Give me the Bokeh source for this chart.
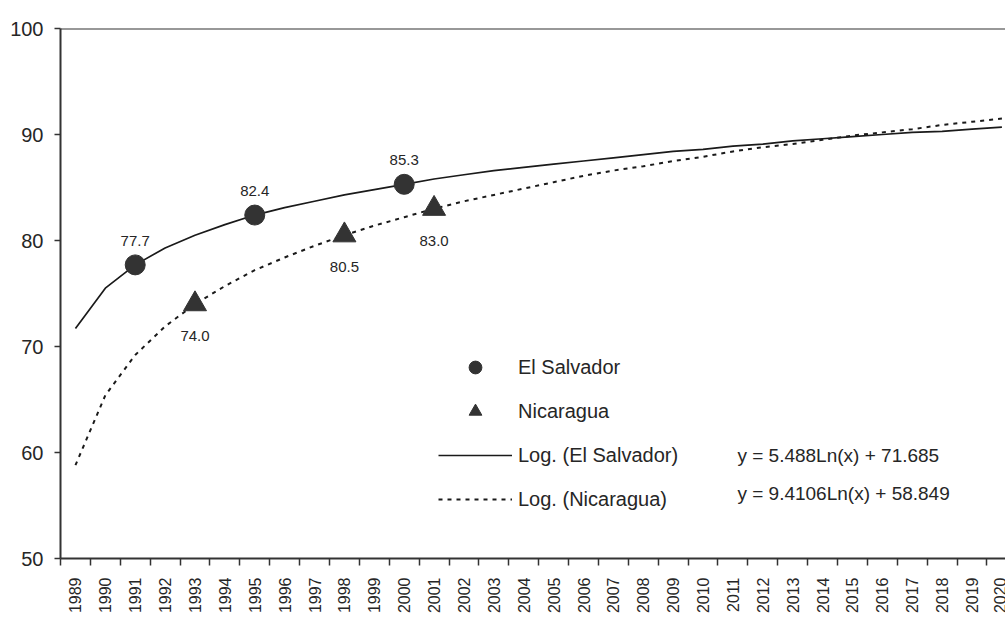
import math
from bokeh.plotting import figure
from bokeh.models import (FixedTicker, Legend, LegendItem, LabelSet,
                          ColumnDataSource, Label, Span)
from bokeh.core.properties import value
from bokeh.embed import file_html
from bokeh.resources import INLINE

# ---- data -------------------------------------------------------------
years = [str(y) for y in range(1989, 2021)]          # category tick labels
x_index = list(range(1, len(years) + 1))             # category positions

es_trend = [71.7, 75.5, 77.7, 79.3, 80.5, 81.5, 82.4, 83.1, 83.7, 84.3,
            84.8, 85.3, 85.8, 86.2, 86.6, 86.9, 87.2, 87.5, 87.8, 88.1,
            88.4, 88.6, 88.9, 89.1, 89.4, 89.6, 89.8, 90.0, 90.2, 90.3,
            90.5, 90.7]
nic_trend = [58.8, 65.4, 69.2, 71.9, 74.0, 75.7, 77.2, 78.4, 79.5, 80.5,
             81.4, 82.2, 83.0, 83.7, 84.3, 84.9, 85.5, 86.1, 86.6, 87.0,
             87.5, 87.9, 88.4, 88.8, 89.1, 89.5, 89.9, 90.2, 90.5, 90.9,
             91.2, 91.5]

es_years = ["1991", "1995", "2000"]
es_values = [77.7, 82.4, 85.3]
nic_years = ["1993", "1998", "2001"]
nic_values = [74.0, 80.5, 83.0]

y_ticks = [50, 60, 70, 80, 90, 100]
es_equation = "y = 5.488Ln(x) + 71.685"
nic_equation = "y = 9.4106Ln(x) + 58.849"

# ---- styling ----------------------------------------------------------
FONT = "Liberation Sans"
DARK = "#333333"
TXT = "#262626"

p = figure(frame_width=945, frame_height=530,
           x_range=(0.5, 32.12), y_range=(50, 100),
           output_backend="svg", toolbar_location=None,
           min_border_left=60, min_border_top=28, min_border_right=0,
           min_border_bottom=10)
p.outline_line_color = None
p.background_fill_color = "white"
p.border_fill_color = "white"
p.xgrid.visible = False
p.ygrid.visible = False

# top border of the plot area
p.add_layout(Span(location=100, dimension="width", line_color=DARK,
                  line_width=2))

# ---- series -----------------------------------------------------------
trend_src = ColumnDataSource(dict(x=x_index, es=es_trend, nic=nic_trend))
r_es_line = p.line("x", "es", source=trend_src, line_color="#1a1a1a",
                   line_width=1.7)
r_nic_line = p.line("x", "nic", source=trend_src, line_color="#1a1a1a",
                    line_width=2, line_dash="4 5")

es_src = ColumnDataSource(dict(
    x=[years.index(y) + 1 for y in es_years], y=es_values,
    lab=[f"{v:.1f}" for v in es_values]))
nic_src = ColumnDataSource(dict(
    x=[years.index(y) + 1 for y in nic_years], y=nic_values,
    lab=[f"{v:.1f}" for v in nic_values]))

r_es = p.scatter("x", "y", source=es_src, marker="circle", size=20,
                 fill_color=DARK, line_color=DARK)
r_nic = p.scatter("x", "y", source=nic_src, marker="triangle", size=23,
                  fill_color=DARK, line_color=DARK)

p.add_layout(LabelSet(x="x", y="y", text="lab", source=es_src,
                      y_offset=24, text_align="center",
                      text_baseline="middle", text_font=value(FONT),
                      text_font_size=value("15px"), text_color=TXT))
p.add_layout(LabelSet(x="x", y="y", text="lab", source=nic_src,
                      y_offset=-32, text_align="center",
                      text_baseline="middle", text_font=value(FONT),
                      text_font_size=value("15px"), text_color=TXT))

# ---- equations --------------------------------------------------------
p.add_layout(Label(x=23.15, y=59.75, text=es_equation, text_font=FONT,
                   text_font_size="19px", text_color=TXT,
                   text_baseline="middle"))
p.add_layout(Label(x=23.15, y=56.1, text=nic_equation, text_font=FONT,
                   text_font_size="19px", text_color=TXT,
                   text_baseline="middle"))

# ---- axes -------------------------------------------------------------
xa = p.xaxis[0]
xa.ticker = FixedTicker(ticks=x_index,
                        minor_ticks=[i - 0.5 for i in x_index])
xa.major_label_overrides = {i: y for i, y in zip(x_index, years)}
xa.major_label_orientation = math.pi / 2
xa.major_tick_line_color = None
xa.major_tick_out = 7
xa.major_tick_in = 0
xa.minor_tick_line_color = DARK
xa.minor_tick_line_width = 1.5
xa.minor_tick_out = 7
xa.minor_tick_in = 0
xa.major_label_standoff = 12
xa.major_label_text_font = FONT
xa.major_label_text_font_size = "16px"
xa.major_label_text_color = TXT
xa.axis_line_color = DARK
xa.axis_line_width = 2

ya = p.yaxis[0]
ya.ticker = FixedTicker(ticks=y_ticks)
ya.minor_tick_line_color = None
ya.major_tick_out = 6
ya.major_tick_in = 0
ya.major_tick_line_color = DARK
ya.major_tick_line_width = 1.5
ya.major_label_standoff = 11
ya.major_label_text_font = FONT
ya.major_label_text_font_size = "20px"
ya.major_label_text_color = TXT
ya.axis_line_color = DARK
ya.axis_line_width = 2

# ---- legend -----------------------------------------------------------
legend = Legend(items=[
    LegendItem(label="El Salvador", renderers=[r_es]),
    LegendItem(label="Nicaragua", renderers=[r_nic]),
    LegendItem(label="Log. (El Salvador)", renderers=[r_es_line]),
    LegendItem(label="Log. (Nicaragua)", renderers=[r_nic_line]),
], location=(378, 43), glyph_width=74, glyph_height=32, label_height=32,
    label_standoff=6, spacing=12, padding=0, margin=0,
    border_line_color=None, background_fill_alpha=0,
    label_text_font=FONT, label_text_font_size="20px",
    label_text_color=TXT)
p.add_layout(legend)

open("out.html", "w").write(file_html(p, INLINE))
